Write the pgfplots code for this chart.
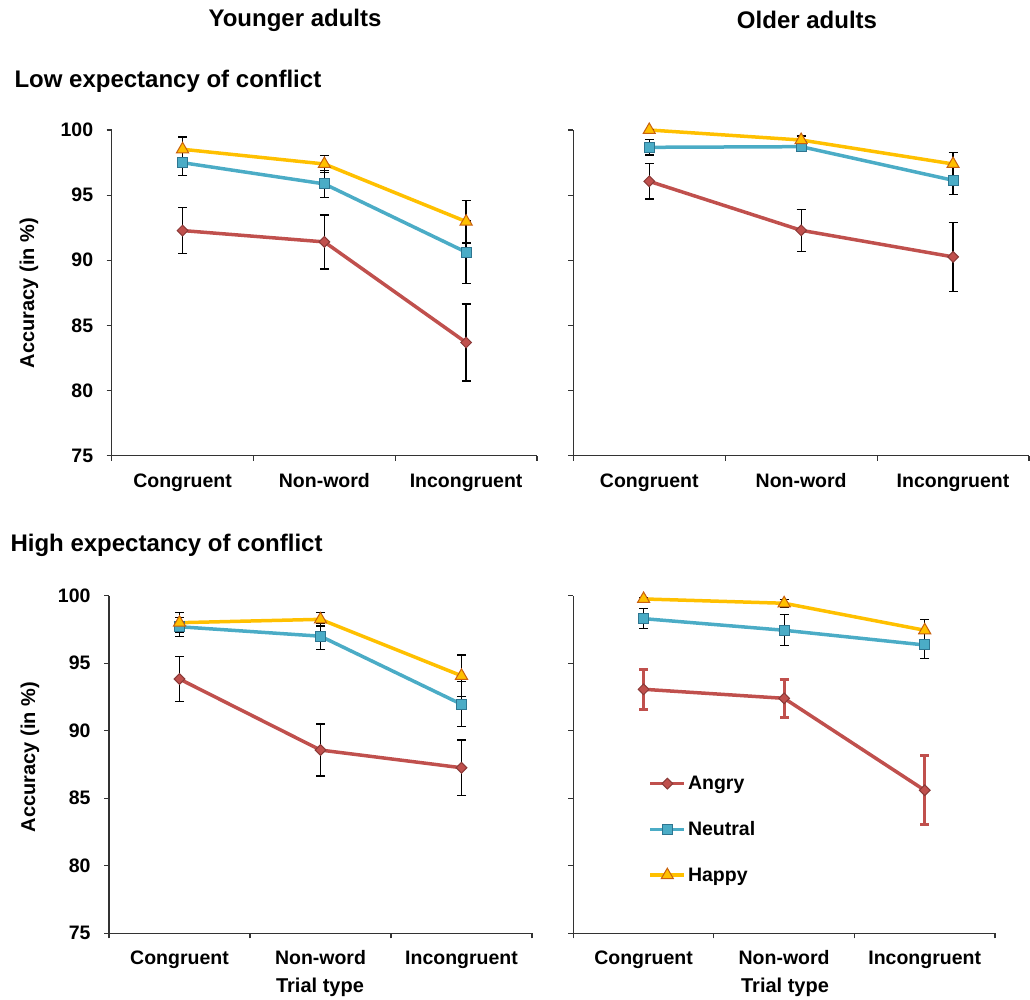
\documentclass[border=0pt]{standalone}
\usepackage{fontspec}
\setmainfont{Liberation Sans}
\usepackage{pgfplots}
\pgfplotsset{compat=1.18}
\definecolor{angry}{HTML}{C0504D}
\definecolor{angryE}{HTML}{8B3A38}
\definecolor{neutral}{HTML}{4BACC6}
\definecolor{neutralE}{HTML}{2E7590}
\definecolor{happy}{HTML}{FFC000}
\definecolor{happyE}{HTML}{C8600E}
\newcommand{\tickfont}{\fontsize{19.5}{22}\selectfont\bfseries}
\newcommand{\labfont}{\fontsize{20}{22}\selectfont\bfseries}
\newcommand{\titlefont}{\fontsize{24}{27}\selectfont\bfseries}
\pgfplotsset{
  panel/.style={
    scale only axis,
    xmin=0.5, xmax=3.5, ymin=75, ymax=100,
    ytick={75,80,85,90,95,100},
    xtick={0.5,1.5,2.5,3.5}, xticklabels={},
    extra x ticks={1,2,3},
    extra x tick labels={Congruent,Non-word,Incongruent},
    extra x tick style={major tick length=0pt},
    axis x line*=bottom, axis y line*=left,
    tick align=outside,
    major tick length=5pt,
    axis line style={line width=1.1pt, black!80},
    tick style={line width=1.1pt, black!80},
    tick label style={font=\tickfont},
    /pgf/number format/assume math mode=true,
    x tick label style={yshift=-14pt, text height=14pt, text depth=4pt},
    y tick label style={xshift=-10pt},
    clip=false,
    error bars/y dir=both, error bars/y explicit,
    error bars/error bar style={line width=1.3pt, black},
    error bars/error mark options={rotate=90, line width=1.3pt, mark size=4.5pt, black},
    legend image code/.code={\draw[mark repeat=2,mark phase=2,##1] plot coordinates {(0pt,0pt) (17pt,0pt) (34pt,0pt)};},
  },
  angrys/.style={color=angry, line width=3.5pt, mark=square*, mark size=3.8pt,
     mark options={rotate=45, fill=angry, draw=angryE, line width=1pt}},
  neutrals/.style={color=neutral, line width=3.5pt, mark=square*, mark size=5pt,
     mark options={fill=neutral, draw=neutralE, line width=1pt}},
  happys/.style={color=happy, line width=3.5pt, mark=triangle*, mark size=7pt,
     mark options={fill=happy, draw=happyE, line width=1pt}},
}
\begin{document}
\begin{tikzpicture}[x=1pt,y=1pt]
\useasboundingbox (0,0) rectangle (1030,999);

% Top-left: Younger adults, low expectancy
\begin{axis}[panel, at={(111.7pt,543.3pt)}, anchor=south west, width=425.3pt, height=325.7pt]
\addplot[angrys] coordinates {(1,92.28) +- (0,1.78) (2,91.41) +- (0,2.07) (3,83.69) +- (0,2.95)};
\addplot[neutrals] coordinates {(1,97.49) +- (0,1.0) (2,95.86) +- (0,1.05) (3,90.62) +- (0,2.4)};
\addplot[happys] coordinates {(1,98.52) +- (0,0.95) (2,97.39) +- (0,0.65) (3,92.97) +- (0,1.64)};
\end{axis}

% Top-right: Older adults, low expectancy
\begin{axis}[panel, yticklabels={}, at={(573.3pt,543.3pt)}, anchor=south west, width=455.7pt, height=325.7pt]
\addplot[angrys] coordinates {(1,96.06) +- (0,1.35) (2,92.30) +- (0,1.6) (3,90.26) +- (0,2.65)};
\addplot[neutrals] coordinates {(1,98.67) +- (0,0.6) (2,98.72) +- (0,0.3) (3,96.14) +- (0,1.1)};
\addplot[happys] coordinates {(1,100.0) +- (0,0.0) (2,99.23) +- (0,0.3) (3,97.39) +- (0,0.9)};
\end{axis}

% Bottom-left: Younger adults, high expectancy
\begin{axis}[panel, at={(109pt,65.7pt)}, anchor=south west, width=423pt, height=337.6pt]
\addplot[angrys] coordinates {(1,93.83) +- (0,1.65) (2,88.57) +- (0,1.92) (3,87.26) +- (0,2.05)};
\addplot[neutrals] coordinates {(1,97.70) +- (0,0.7) (2,97.00) +- (0,0.97) (3,91.96) +- (0,1.67)};
\addplot[happys] coordinates {(1,98.00) +- (0,0.75) (2,98.25) +- (0,0.5) (3,94.07) +- (0,1.54)};
\end{axis}

% Bottom-right: Older adults, high expectancy
\begin{axis}[panel, yticklabels={}, at={(573.3pt,65.7pt)}, anchor=south west, width=421.7pt, height=337.6pt,
  legend style={at={(rel axis cs:0.178,0.472)}, anchor=north west, draw=none, fill=none,
    font=\tickfont, row sep=26.5pt, inner sep=0pt},
  legend cell align=left]
\addplot[angrys, error bars/error bar style={line width=3pt, angry},
  error bars/error mark options={rotate=90, line width=3pt, mark size=4.5pt, angry}]
  coordinates {(1,93.07) +- (0,1.5) (2,92.40) +- (0,1.4) (3,85.59) +- (0,2.55)};
\addplot[neutrals] coordinates {(1,98.30) +- (0,0.75) (2,97.44) +- (0,1.15) (3,96.35) +- (0,1.0)};
\addplot[happys] coordinates {(1,99.76) +- (0,0.1) (2,99.44) +- (0,0.3) (3,97.44) +- (0,0.8)};
\legend{Angry,Neutral,Happy}
\end{axis}

% Titles and labels
\node[font=\titlefont] at (295,979) {Younger adults};
\node[font=\titlefont] at (807,979) {Older adults};
\node[font=\titlefont, anchor=west] at (11,918) {Low expectancy of conflict};
\node[font=\titlefont, anchor=west] at (7,454) {High expectancy of conflict};
\node[font=\labfont, rotate=90] at (29,706) {Accuracy (in \%)};
\node[font=\labfont, rotate=90] at (30,242) {Accuracy (in \%)};
\node[font=\labfont] at (320,12) {Trial type};
\node[font=\labfont] at (785,12) {Trial type};
\end{tikzpicture}
\end{document}
